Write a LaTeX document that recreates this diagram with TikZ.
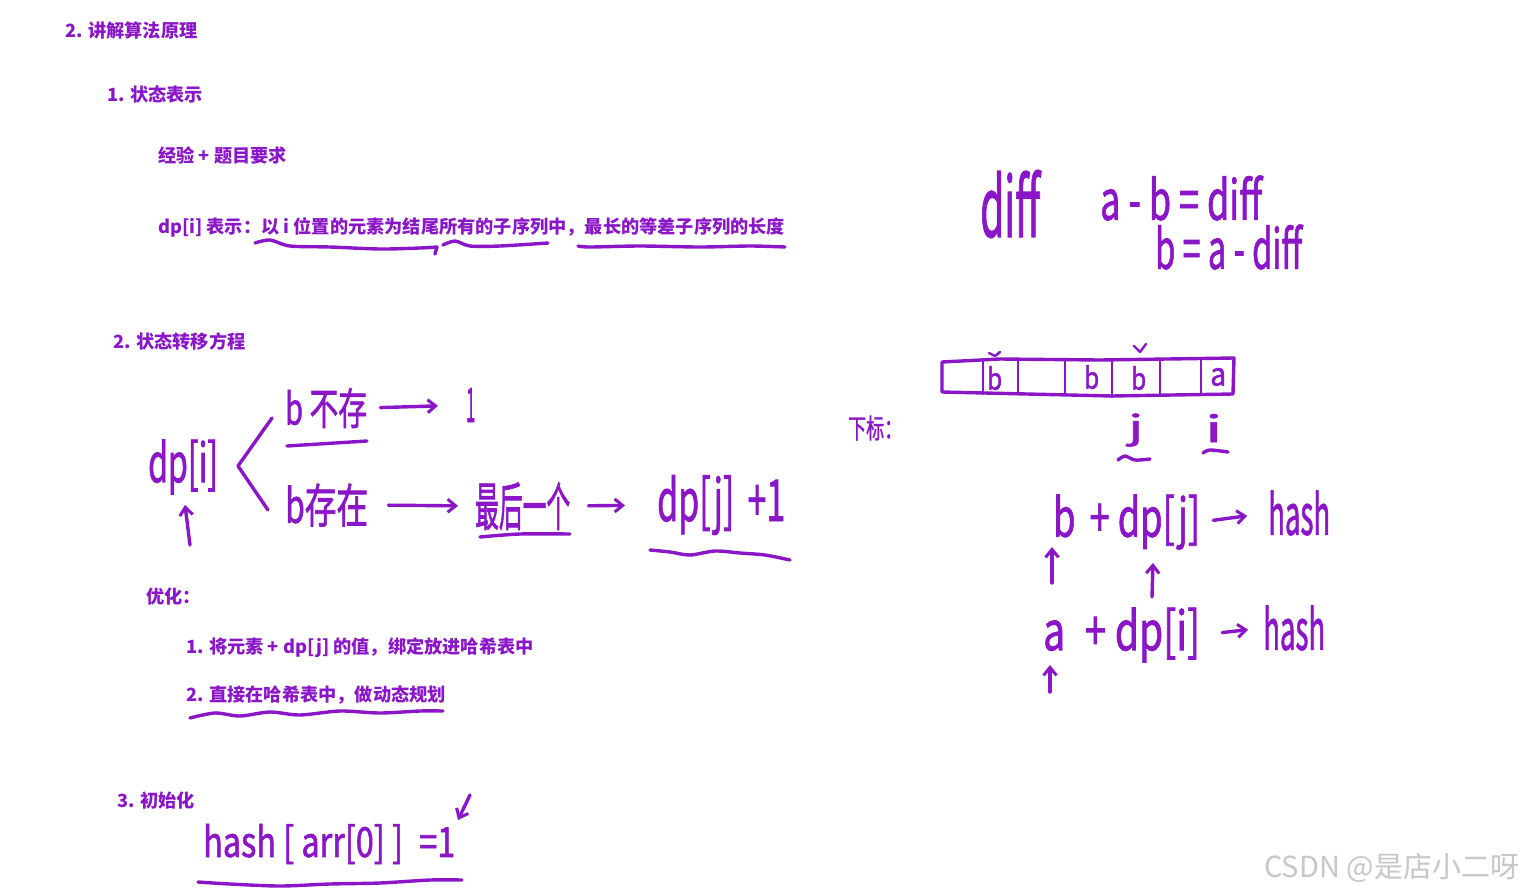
\documentclass[tikz,border=0pt]{standalone}
\usepackage{fontspec}
\usepackage{graphicx}
\setmainfont{Noto Sans CJK SC}
\newfontfamily\cjk{Noto Sans CJK SC}
\newfontfamily\hwf[FakeBold=1.6]{Noto Sans CJK SC}
\usetikzlibrary{arrows.meta}
\definecolor{pc}{RGB}{138,22,200}
\newcommand{\hwbox}[3]{\resizebox*{#1pt}{#2pt}{#3}}
\tikzset{
  prt/.style={text=pc, font=\cjk\bfseries\fontsize{18.2}{21}\selectfont, anchor=west, inner sep=0pt},
  hw/.style={text=pc, font=\hwf, anchor=west, inner sep=0pt},
  pen/.style={draw=pc, line width=3.4pt, line cap=round, line join=round},
  arr/.style={pen, -{Straight Barb[length=8pt,width=13pt,line width=3pt]}},
}
\begin{document}
\begin{tikzpicture}[x=1pt,y=-1pt]
\useasboundingbox[fill=white] (0,0) rectangle (1527,895);

% printed text
\node[prt] (t1) at (65,31) {2. 讲解算法原理};
\node[prt] (t2) at (107,94) {1. 状态表示};
\node[prt] (t3) at (158,155) {经验 + 题目要求};
\node[prt] (t4) at (158,227) {dp[i] 表示：以 i 位置的元素为结尾所有的子序列中，最长的等差子序列的长度};
\node[prt] (t5) at (113,341) {2. 状态转移方程};
\node[prt] (t6) at (146,597) {优化：};
\node[prt] (t7) at (186,648) {1. 将元素 + dp[j] 的值，绑定放进哈希表中};
\node[prt] (t8) at (186,695) {2. 直接在哈希表中，做动态规划};
\node[prt] (t9) at (117,800) {3. 初始化};

% underlines of definition
\draw[pen] plot[smooth] coordinates {(255,243) (270,240) (290,246) (330,247) (380,249) (420,248) (437,247)} -- (435,254);
\draw[pen] plot[smooth] coordinates {(443,245) (455,241) (470,246) (500,246) (548,243)};
\draw[pen] plot[smooth] coordinates {(578,246) (590,247) (640,246) (700,247) (750,246) (785,247)};

% state transition (handwritten)
\node[hw] (dpi) at (148,467) {\hwbox{70}{55}{dp[i]}};
\coordinate (dpiup) at (190,545);
\draw[arr] (dpiup) -- (185,505);
\draw[pen] (272,418) -- (238,466) -- (268,510);
\node[hw] (bn) at (285,408) {\hwbox{82}{40}{b 不存}};
\draw[pen] (287,446) -- (367,441);
\node[hw] (one) at (466,405) {\hwbox{9}{34}{1}};
\draw[arr, shorten <=13pt, shorten >=28pt] (bn.east) -- (one.west);
\node[hw] (by) at (285,505) {\hwbox{83}{43}{b存在}};
\node[hw] (last) at (475,506) {\hwbox{95}{48}{最后一个}};
\draw[pen] plot[smooth] coordinates {(480,537) (520,534) (570,534)};
\node[hw] (dpj1) at (657,505) {\hwbox{128}{60}{dp[j] \,+1}};
\draw[pen] plot[smooth] coordinates {(650,550) (670,552) (690,555) (715,551) (740,553) (765,555) (790,560)};
\draw[arr, shorten <=20pt, shorten >=17pt] (by.east) -- (last.west);
\draw[arr, shorten <=18pt, shorten >=32pt] (last.east) -- (dpj1.west);

% optimisation underline
\draw[pen] plot[smooth] coordinates {(190,718) (215,713) (240,716) (270,712) (300,715) (340,711) (380,713) (420,711) (443,711)};

% initialisation
\node[hw] (init) at (203,844) {\hwbox{252}{40}{hash [ arr[0] ] \;=1}};
\coordinate (initarr) at (470,795);
\draw[arr] (initarr) -- (458,820);
\draw[pen] plot[smooth] coordinates {(198,882) (230,884) (280,886) (330,884) (380,883) (430,880) (462,880)};

% diff formulas
\node[hw] (diff) at (980,204) {\hwbox{60}{68}{diff}};
\node[hw] (ab) at (1100,198) {\hwbox{162}{45}{a - b = diff}};
\node[hw] (ba) at (1155,247) {\hwbox{147}{45}{b = a - diff}};

% array
\draw[pen] (942,362) -- (1000,359) -- (1100,360) -- (1234,358) -- (1233,394) -- (1112,396) -- (942,392) -- cycle;
\foreach \x/\ya/\yb in {983/360/394, 1018/359/394, 1065/360/395, 1112/360/397, 1160/359/396, 1201/358/395}
  \draw[pen, line width=2.8pt] (\x,\ya) -- (\x,\yb);
\node[hw] (c2) at (987,378) {\hwbox{15}{24}{b}};
\node[hw] (c4) at (1084,377) {\hwbox{15}{24}{b}};
\node[hw] (c5) at (1131,378) {\hwbox{15}{24}{b}};
\node[hw] (c7) at (1210,377) {\hwbox{16}{18}{a}};
\draw[pen, line width=2.4pt] (989,353) -- (995,356) -- (1000,352);
\draw[pen, line width=2.4pt] (1134,346) -- (1140,352) -- (1146,344);
\node[hw] (xb) at (848,428) {\hwbox{54}{25}{下标：}};
\node[hw] (jj) at (1128,430) {\hwbox{15}{33}{j}};
\node[hw] (ii) at (1205,428) {\hwbox{17}{28}{i}};
\draw[pen] plot[smooth] coordinates {(1118,460) (1125,456) (1135,460) (1150,459)};
\draw[pen] plot[smooth] coordinates {(1203,453) (1210,450) (1228,452)};

% hash rows
\node[hw] (r1) at (1053,522) {\hwbox{147}{55}{b \,+ dp[j]}};
\node[hw] (h1) at (1268,513) {\hwbox{62}{45}{hash}};
\draw[arr, shorten <=13pt, shorten >=21pt] (r1.east) -- (h1.west);
\node[hw] (r2) at (1043,635) {\hwbox{157}{55}{a \;+ dp[i]}};
\node[hw] (h2) at (1263,628) {\hwbox{62}{45}{hash}};
\draw[arr, shorten <=22pt, shorten >=15pt] (r2.east) -- (h2.west);
\coordinate (u1) at (1052,583);
\coordinate (u2) at (1152,597);
\coordinate (u3) at (1050,692);
\draw[arr] (u1) -- (1052,547);
\draw[arr] (u2) -- (1153,563);
\draw[arr] (u3) -- (1050,665);

% watermark
\node[text=black!22, font=\cjk\fontsize{29}{32}\selectfont, anchor=west, inner sep=0pt] (wm) at (1264,868) {CSDN @是店小二呀};
\end{tikzpicture}
\end{document}
